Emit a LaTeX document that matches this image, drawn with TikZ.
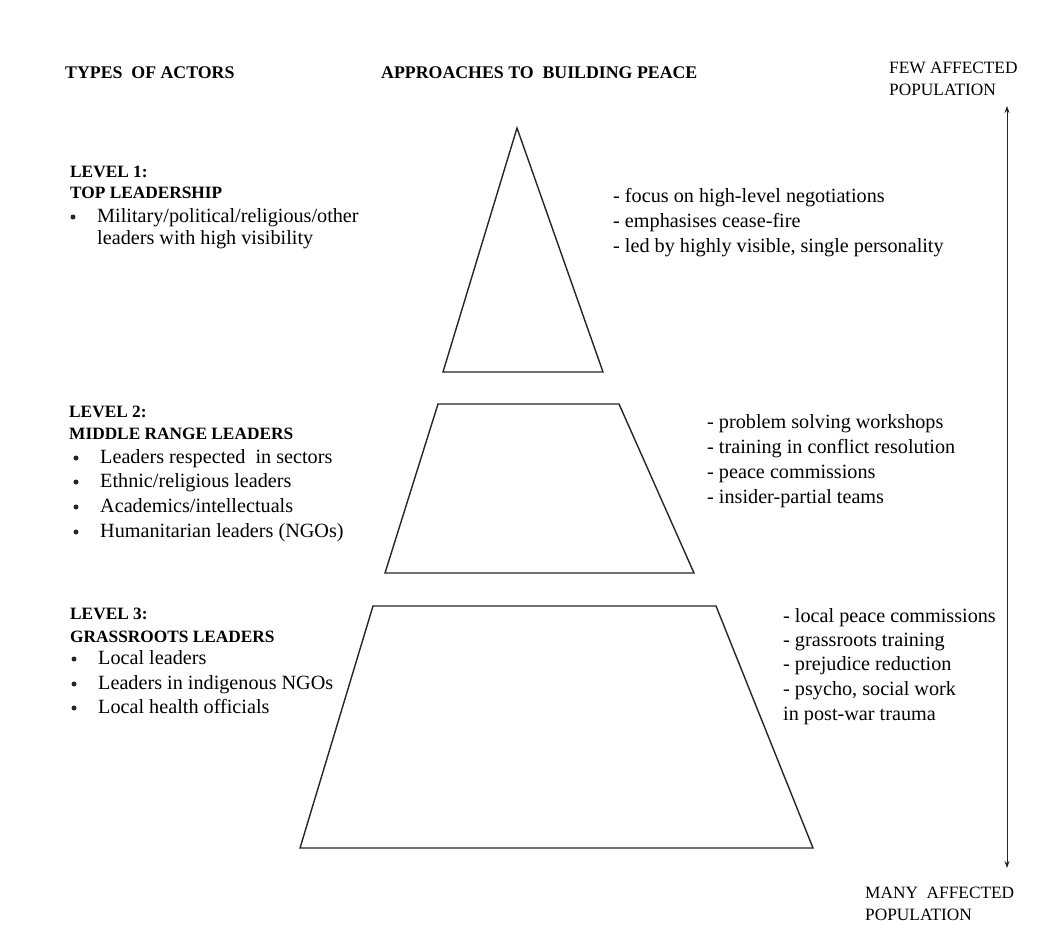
\documentclass[tikz,border=0pt]{standalone}
\usepackage{fontspec}
\setmainfont{Liberation Serif}
\usetikzlibrary{arrows.meta}
\begin{document}
\begin{tikzpicture}[x=1pt,y=-1pt,
  txt/.style={anchor=base west, inner sep=0pt, font=\fontsize{20.2}{24}\selectfont},
  head/.style={anchor=base west, inner sep=0pt, font=\fontsize{17.8}{20}\selectfont\bfseries},
  lvl/.style={anchor=base west, inner sep=0pt, font=\fontsize{17.3}{20}\selectfont\bfseries},
  pop/.style={anchor=base west, inner sep=0pt, font=\fontsize{17.3}{20}\selectfont},
  dot/.style={circle, fill=black!85, inner sep=0pt, minimum size=5pt},
  tier/.style={draw=black!85, line width=1.4pt, line join=miter},
  axis/.style={draw=black!85, line width=0.9pt, {Stealth[length=7pt,width=5pt]}-{Stealth[length=7pt,width=5pt]}}]
\fill[white] (0,0) rectangle (1051,924);
\useasboundingbox (0,0) rectangle (1051,924);

% headers
\node[head] (h1) at (65,78) {TYPES\ \ OF ACTORS};
\node[head] (h2) at (381,78) {APPROACHES TO\ \ BUILDING PEACE};
\node[pop] (few1) at (889,73) {FEW AFFECTED};
\node[pop] (few2) at (889,95) {POPULATION};
\node[pop] (many1) at (865,898) {MANY\ \ AFFECTED};
\node[pop] (many2) at (865,920) {POPULATION};

% axis arrow
\coordinate (atop) at (1007,106);
\coordinate (abot) at (1007,868);
\draw[axis] (abot) -- (atop);

% pyramid tiers
\draw[tier] (517,128) -- (603,372) -- (443,372) -- cycle;
\draw[tier] (438,404) -- (619,404) -- (694,573) -- (385,573) -- cycle;
\draw[tier] (373,606) -- (716,606) -- (813,848) -- (300,848) -- cycle;

% level 1
\node[lvl] (l1a) at (70,177) {LEVEL 1:};
\node[lvl] (l1b) at (70,198) {TOP LEADERSHIP};
\node[dot] (l1bul) at (73,217) {};
\node[txt] (l1c) at (97,222) {Military/political/religious/other};
\node[txt] (l1d) at (97,244) {leaders with high visibility};

\node[txt] (r1a) at (613,202) {- focus on high-level negotiations};
\node[txt] (r1b) at (613,227) {- emphasises cease-fire};
\node[txt] (r1c) at (613,252) {- led by highly visible, single personality};

% level 2
\node[lvl] (l2a) at (69,417) {LEVEL 2:};
\node[lvl] (l2b) at (69,439) {MIDDLE RANGE LEADERS};
\node[dot] (l2bul1) at (76,458) {};
\node[dot] (l2bul2) at (76,482) {};
\node[dot] (l2bul3) at (76,507) {};
\node[dot] (l2bul4) at (76,532) {};
\node[txt] (l2c) at (100,463) {Leaders respected\ \ in sectors};
\node[txt] (l2d) at (100,487) {Ethnic/religious leaders};
\node[txt] (l2e) at (100,512) {Academics/intellectuals};
\node[txt] (l2f) at (100,537) {Humanitarian leaders (NGOs)};

\node[txt] (r2a) at (707,428) {- problem solving workshops};
\node[txt] (r2b) at (707,453) {- training in conflict resolution};
\node[txt] (r2c) at (707,478) {- peace commissions};
\node[txt] (r2d) at (707,503) {- insider-partial teams};

% level 3
\node[lvl] (l3a) at (70,619) {LEVEL 3:};
\node[lvl] (l3b) at (70,642) {GRASSROOTS LEADERS};
\node[dot] (l3bul1) at (74,659) {};
\node[dot] (l3bul2) at (74,684) {};
\node[dot] (l3bul3) at (74,708) {};
\node[txt] (l3c) at (98,664) {Local leaders};
\node[txt] (l3d) at (98,689) {Leaders in indigenous NGOs};
\node[txt] (l3e) at (98,713) {Local health officials};

\node[txt] (r3a) at (783,622) {- local peace commissions};
\node[txt] (r3b) at (783,646) {- grassroots training};
\node[txt] (r3c) at (783,670) {- prejudice reduction};
\node[txt] (r3d) at (783,695) {- psycho, social work};
\node[txt] (r3e) at (783,720) {in post-war trauma};
\end{tikzpicture}
\end{document}
